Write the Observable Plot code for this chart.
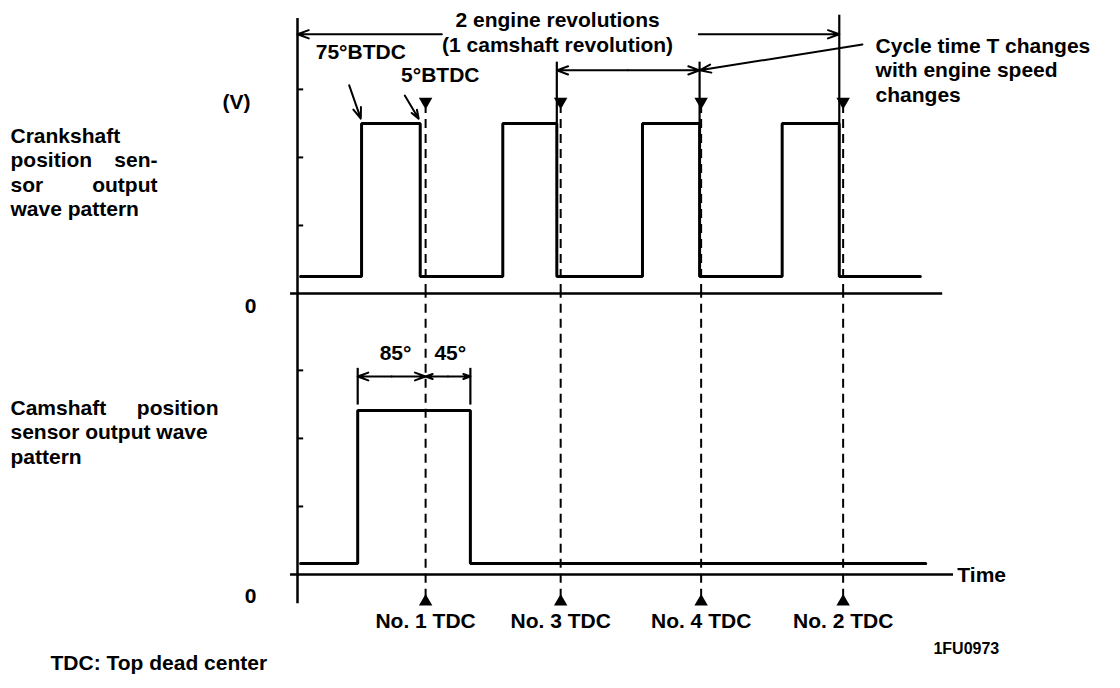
<!DOCTYPE html>
<html><head><meta charset="utf-8">
<script src="https://cdn.jsdelivr.net/npm/d3@7"></script>
<script src="https://cdn.jsdelivr.net/npm/@observablehq/plot@0.6"></script>
<style>body{margin:0;background:#fff;} svg{display:block}</style>
</head><body><div id="chart"></div>
<script>
// ---- data (time in crank-angle-like units, level in volts) ----
const panels = ["Crankshaft", "Camshaft"];
const crankRise = [-83, 100, 281, 462];
const crankFall = [-7, 170, 355, 536];
const crankSpan = [-162, 641];
const crankLevels = [0.25, 2.5];          // low, high
const camRise = [-88];
const camFall = [58];
const camSpan = [-162, 648];
const camLevels = [0.16, 2.41];
const tdcTimes = [0, 175, 357, 541];
const tdcLabels = ["No. 1 TDC", "No. 3 TDC", "No. 4 TDC", "No. 2 TDC"];
const voltTicks = [1, 2, 3];
const axisTime = -166;
const baselineEnds = [670, 684];          // crank, cam
const camAngles = ["85°", "45°"];

// ---- helpers ----
function wave(panel, rise, fall, span, lv) {
  const pts = [{panel, t: span[0], v: lv[0]}];
  rise.forEach((r, i) => pts.push({panel, t: r, v: lv[1]}, {panel, t: fall[i], v: lv[0]}));
  pts.push({panel, t: span[1], v: lv[0]});
  return pts;
}
const crankWave = wave("Crankshaft", crankRise, crankFall, crankSpan, crankLevels);
const camWave = wave("Camshaft", camRise, camFall, camSpan, camLevels);

const font = {fontFamily: "Liberation Sans, Arial, sans-serif", fontWeight: "bold", fill: "black"};
const FS = 21;
const P0 = panels[0], P1 = panels[1];

const axisRules = [
  {panel: P0, y1: 0, y2: 4.04},
  {panel: P1, y1: -0.43, y2: 4.13}
];
const ticks = panels.flatMap(p => voltTicks.map(v => ({panel: p, v})));
const baselines = [
  {panel: P0, x1: -175, x2: baselineEnds[0]},
  {panel: P1, x1: -175, x2: baselineEnds[1]}
];
const tdcRows = tdcTimes.map((t, i) => ({t, label: tdcLabels[i]}));
const dashTop = tdcRows.map(d => ({...d, panel: P0, y1: 0, y2: 2.72}));
const dashBot = tdcRows.map(d => ({...d, panel: P1, y1: -0.35, y2: 4.13}));

// leader / dimension lines
const arrows = [
  // 2 engine revolutions
  {panel: P0, x1: 21, y1: 3.81, x2: axisTime, y2: 3.81},
  {panel: P0, x1: 354, y1: 3.81, x2: crankFall[3], y2: 3.81},
  // cycle time T
  {panel: P0, x1: 262, y1: 3.28, x2: crankFall[1], y2: 3.28},
  {panel: P0, x1: 262, y1: 3.28, x2: crankFall[2], y2: 3.28},
  // cycle leader
  {panel: P0, x1: 566, y1: 3.66, x2: crankFall[2], y2: 3.28},
  // BTDC leaders
  {panel: P0, x1: -99, y1: 3.06, x2: crankRise[0] - 1, y2: 2.57},
  {panel: P0, x1: -27, y1: 2.91, x2: crankFall[0] - 2, y2: 2.57},
  // 85 / 45 degree dimension
  {panel: P1, x1: -44, y1: 2.91, x2: camRise[0], y2: 2.91},
  {panel: P1, x1: -44, y1: 2.91, x2: tdcTimes[0], y2: 2.91},
  {panel: P1, x1: 29, y1: 2.91, x2: tdcTimes[0], y2: 2.91},
  {panel: P1, x1: 29, y1: 2.91, x2: camFall[0], y2: 2.91}
];
const extLines = [
  {panel: P0, t: crankFall[3], y1: crankLevels[1], y2: 4.09},
  {panel: P0, t: crankFall[1], y1: crankLevels[1], y2: 3.4},
  {panel: P0, t: crankFall[2], y1: crankLevels[1], y2: 3.4},
  {panel: P1, t: camRise[0], y1: 2.49, y2: 3.03},
  {panel: P1, t: camFall[0], y1: 2.49, y2: 3.03}
];

const centerTexts = [
  {panel: P0, t: 171, y: 4.02, s: "2 engine revolutions"},
  {panel: P0, t: 171, y: 3.655, s: "(1 camshaft revolution)"},
  {panel: P0, t: -84, y: 3.54, s: "75°BTDC"},
  {panel: P0, t: 19, y: 3.21, s: "5°BTDC"},
  {panel: P1, t: -39, y: 3.25, s: camAngles[0]},
  {panel: P1, t: 32, y: 3.25, s: camAngles[1]}
];
const cycleTexts = [
  {panel: P0, y: 3.632, s: "Cycle time T changes"},
  {panel: P0, y: 3.275, s: "with engine speed"},
  {panel: P0, y: 2.918, s: "changes"}
];
// left labels: [panel, y, text, dx, anchor]
const leftTexts = [
  [P0, 2.309, "Crankshaft", 10, "start"],
  [P0, 1.951, "position", 10, "start"], [P0, 1.951, "sen-", 157, "end"],
  [P0, 1.594, "sor", 10, "start"], [P0, 1.594, "output", 157, "end"],
  [P0, 1.237, "wave pattern", 10, "start"],
  [P0, 2.81, "(V)", 222, "start"],
  [P0, -0.19, "0", 250, "middle"],
  [P1, 2.441, "Camshaft", 10, "start"], [P1, 2.441, "position", 218, "end"],
  [P1, 2.084, "sensor output wave", 10, "start"],
  [P1, 1.726, "pattern", 10, "start"],
  [P1, -0.32, "0", 250, "middle"],
  [P1, -1.31, "TDC: Top dead center", 50, "start"]
].map(([panel, y, s, dx, a]) => ({panel, y, s, dx, a}));

const marks = [
  // vertical axis + ticks
  Plot.ruleX(axisRules, {x: () => axisTime, y1: "y1", y2: "y2", fy: "panel", stroke: "black", strokeWidth: 2.5}),
  Plot.ruleY(ticks, {y: "v", x1: () => axisTime, x2: () => axisTime + 8, fy: "panel", stroke: "black", strokeWidth: 2}),
  // baselines
  Plot.ruleY(baselines, {y: () => 0, x1: "x1", x2: "x2", fy: "panel", stroke: "black", strokeWidth: 2.5}),
  // waves
  Plot.line(crankWave, {x: "t", y: "v", fy: "panel", curve: "step-after", stroke: "black", strokeWidth: 3, strokeLinejoin: "miter"}),
  Plot.line(camWave, {x: "t", y: "v", fy: "panel", curve: "step-after", stroke: "black", strokeWidth: 3, strokeLinejoin: "miter"}),
  // TDC dashed lines
  Plot.ruleX(dashTop, {x: "t", y1: "y1", y2: "y2", fy: "panel", stroke: "black", strokeWidth: 2, strokeDasharray: "9,6"}),
  Plot.ruleX(dashBot, {x: "t", y1: "y1", y2: "y2", fy: "panel", stroke: "black", strokeWidth: 2, strokeDasharray: "9,6"}),
  Plot.dot(dashTop, {x: "t", y: () => 2.82, fy: "panel", symbol: "triangle", r: 5, fill: "black", rotate: 180}),
  Plot.dot(dashBot, {x: "t", y: () => -0.4, fy: "panel", symbol: "triangle", r: 5, fill: "black"}),
  Plot.text(dashBot, {x: "t", y: () => -0.68, fy: "panel", text: "label", fontSize: FS, ...font}),
  // extension lines and arrows
  Plot.ruleX(extLines, {x: "t", y1: "y1", y2: "y2", fy: "panel", stroke: "black", strokeWidth: 2.2}),
  Plot.arrow(arrows, {x1: "x1", y1: "y1", x2: "x2", y2: "y2", fy: "panel", stroke: "black", strokeWidth: 2, headLength: 9, headAngle: 40}),
  // texts
  Plot.text(centerTexts, {x: "t", y: "y", fy: "panel", text: "s", fontSize: FS, ...font}),
  Plot.text(cycleTexts, {x: () => 583, y: "y", fy: "panel", text: "s", textAnchor: "start", fontSize: FS, ...font}),
  Plot.text([{panel: P1}], {x: () => 689, y: () => -0.01, fy: "panel", text: () => "Time", textAnchor: "start", fontSize: FS, ...font}),
  Plot.text([{panel: P1}], {x: () => 658, y: () => -1.09, fy: "panel", text: () => "1FU0973", textAnchor: "start", fontSize: 16, ...font}),
  ...leftTexts.map(d => Plot.text([d], {y: "y", fy: "panel", text: "s", frameAnchor: "left", dx: d.dx, textAnchor: d.a, fontSize: FS, ...font}))
];

const chart = Plot.plot({
  width: 1120,
  height: 688,
  marginTop: 12,
  marginBottom: 114,
  marginLeft: 0,
  marginRight: 0,
  x: {domain: [-166, 684], range: [297, 953], axis: null},
  y: {domain: [0, 4.13], axis: null},
  fy: {domain: panels, axis: null, padding: 0},
  style: {background: "white"},
  marks
});
document.getElementById("chart").append(chart);
</script>
</body></html>
